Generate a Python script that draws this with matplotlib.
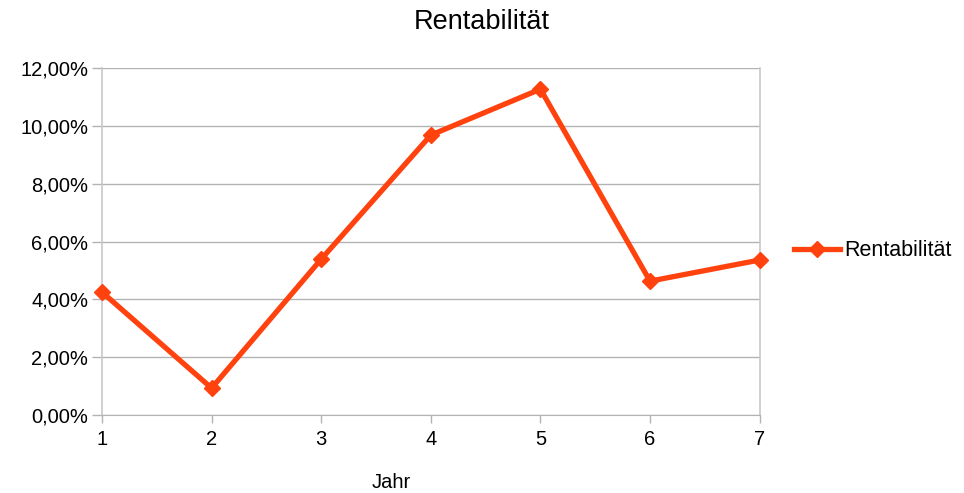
import matplotlib
matplotlib.use('Agg')
import matplotlib.pyplot as plt
from matplotlib.ticker import FuncFormatter

plt.rcParams['font.family'] = ['Liberation Sans', 'DejaVu Sans']

# data
jahre = [1, 2, 3, 4, 5, 6, 7]
rentabilitaet = [4.25, 0.93, 5.39, 9.68, 11.27, 4.63, 5.36]
y_ticks = [0, 2, 4, 6, 8, 10, 12]

color = '#FF420E'
grid_col = '#B3B3B3'

fig = plt.figure(figsize=(9.64, 4.93), dpi=100)
ax = fig.add_axes([0.1058, 0.1582, 0.788 - 0.1058, 0.862 - 0.1582])

ax.plot(jahre, rentabilitaet, color=color, linewidth=3.8, marker='D',
        markersize=8, label='Rentabilität', zorder=3, clip_on=False)

ax.set_xlim(1, 7)
ax.set_ylim(0, 12)
ax.set_xticks(jahre)
ax.set_yticks(y_ticks)
ax.yaxis.set_major_formatter(FuncFormatter(lambda v, p: ('%.2f%%' % v).replace('.', ',')))
# only horizontal grid lines
ax.grid(True, axis='y', color=grid_col, linewidth=1)
ax.set_axisbelow(True)
ax.spines['top'].set_visible(False)
ax.spines['bottom'].set_color(grid_col)
for s in ['left', 'right']:
    ax.spines[s].set_color('#C8C8C8')
    ax.spines[s].set_linewidth(1.2)
ax.tick_params(axis='both', colors=grid_col, width=1, labelcolor='black',
               labelsize=14.5)
ax.tick_params(axis='y', length=7, pad=3)
ax.tick_params(axis='x', length=6, pad=5)

fig.text(0.5, 0.955, 'Rentabilität', ha='center', va='center', fontsize=19.5)
fig.text(391 / 964, 1 - 483 / 493, 'Jahr', ha='center', va='center', fontsize=14.5)

leg = fig.legend(loc='center left', bbox_to_anchor=(0.8233, 1 - 251 / 493), frameon=False,
                 fontsize=15.5, handlelength=2.15, handletextpad=0.2, borderaxespad=0,
                 borderpad=0)

fig.savefig('out.png', dpi=100)
